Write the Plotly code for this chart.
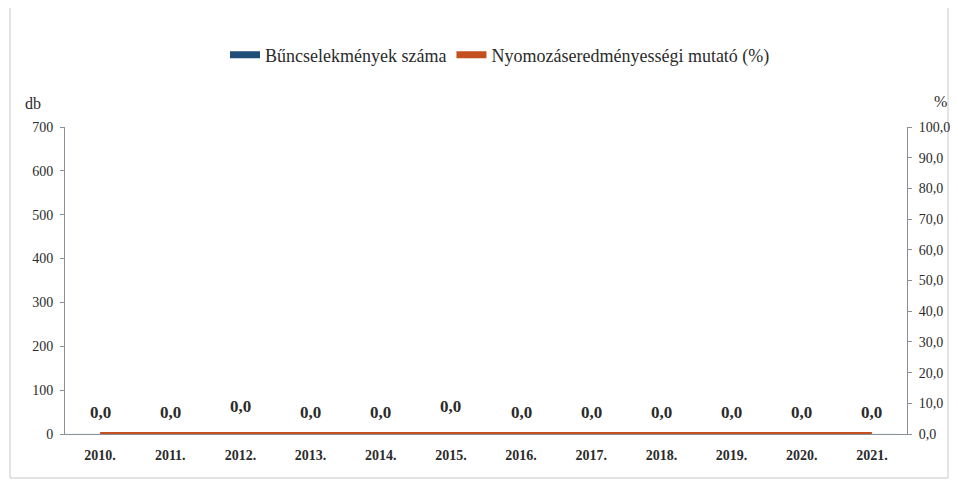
import plotly.graph_objects as go

years = ["2010.", "2011.", "2012.", "2013.", "2014.", "2015.", "2016.", "2017.", "2018.", "2019.", "2020.", "2021."]
crime_counts = [0, 0, 0, 0, 0, 0, 0, 0, 0, 0, 0, 0]
clearance_rate = [0.0, 0.0, 0.0, 0.0, 0.0, 0.0, 0.0, 0.0, 0.0, 0.0, 0.0, 0.0]
left_ticks = [0, 100, 200, 300, 400, 500, 600, 700]
right_ticks = [0, 10, 20, 30, 40, 50, 60, 70, 80, 90, 100]

BLUE = "#1F4E79"
ORANGE = "#C5501F"
FONT = "Liberation Serif"
TXT = "#2b2b2b"
AX = "#8a8f99"

def hu(v):
    return f"{v:.1f}".replace(".", ",")

# page body has an 8px margin: compensate
OFF = 8
W, H = 958 - OFF, 487 - OFF
L, R, T, B = 65 - OFF, 51, 127 - OFF, 53
PW, PH = W - L - R, H - T - B

def px(x):
    return (x - OFF - L) / PW

def py(y):
    return (H - B - (y - OFF)) / PH

fig = go.Figure()
fig.add_trace(go.Bar(x=years, y=crime_counts, marker_color=BLUE, showlegend=False,
                     name="Bűncselekmények száma"))
fig.add_trace(go.Scatter(x=years, y=clearance_rate, mode="lines", line=dict(color=ORANGE, width=4),
                         showlegend=False, yaxis="y2", name="Nyomozáseredményességi mutató (%)"))
# legend entries
fig.add_trace(go.Scatter(x=years, y=[None] * len(years), mode="lines", line=dict(color=BLUE, width=7),
                         name="Bűncselekmények száma"))
fig.add_trace(go.Scatter(x=years, y=[None] * len(years), mode="lines", line=dict(color=ORANGE, width=7),
                         name="Nyomozáseredményességi mutató (%)", yaxis="y2"))

raised = {"2012.", "2015."}
for i, (yr, v) in enumerate(zip(years, clearance_rate)):
    fig.add_annotation(x=i, y=v, xref="x", yref="y2", text=hu(v),
                       showarrow=False, yshift=28 if yr in raised else 22,
                       font=dict(family=FONT, size=17, color=TXT, weight="bold"))

fig.add_annotation(x=px(33), y=py(104), xref="paper", yref="paper", text="db", showarrow=False,
                   font=dict(family=FONT, size=16, color=TXT), xanchor="center", yanchor="middle")
fig.add_annotation(x=px(941), y=py(102), xref="paper", yref="paper", text="%", showarrow=False,
                   font=dict(family=FONT, size=16, color=TXT), xanchor="center", yanchor="middle")

fig.add_shape(type="rect", xref="paper", yref="paper", x0=px(10), x1=px(948), y0=py(478), y1=py(-5),
              line=dict(color="#c8c8c8", width=1), layer="below")

fig.update_layout(
    width=W, height=H,
    margin=dict(l=L, r=R, t=T, b=B, autoexpand=False),
    paper_bgcolor="white", plot_bgcolor="white",
    font=dict(family=FONT, size=13, color=TXT),
    legend=dict(orientation="h", x=px(500), y=py(55), xanchor="center", yanchor="middle",
                font=dict(family=FONT, size=18, color=TXT), itemwidth=30, tracegroupgap=0,
                bgcolor="rgba(0,0,0,0)"),
    xaxis=dict(type="category", categoryorder="array", categoryarray=years,
               range=[-0.5, len(years) - 0.5], showgrid=False, showline=True, linecolor=AX,
               linewidth=1, ticks="", automargin=False, ticklabelstandoff=8,
               tickfont=dict(family=FONT, size=14, color=TXT, weight="bold")),
    yaxis=dict(range=[0, 700], tickvals=left_ticks, showgrid=False, showline=True, linecolor=AX,
               ticks="outside", ticklen=4, tickcolor=AX, zeroline=False, automargin=False,
               ticklabelstandoff=4, tickfont=dict(family=FONT, size=14, color=TXT)),
    yaxis2=dict(range=[0, 100], tickvals=right_ticks, ticktext=[hu(t) for t in right_ticks],
                overlaying="y", side="right", ticklabelstandoff=4,
                showgrid=False, showline=True, linecolor=AX, ticks="outside", ticklen=4, tickcolor=AX,
                zeroline=False, automargin=False, tickfont=dict(family=FONT, size=14, color=TXT)),
)

fig.write_html("out.html")
